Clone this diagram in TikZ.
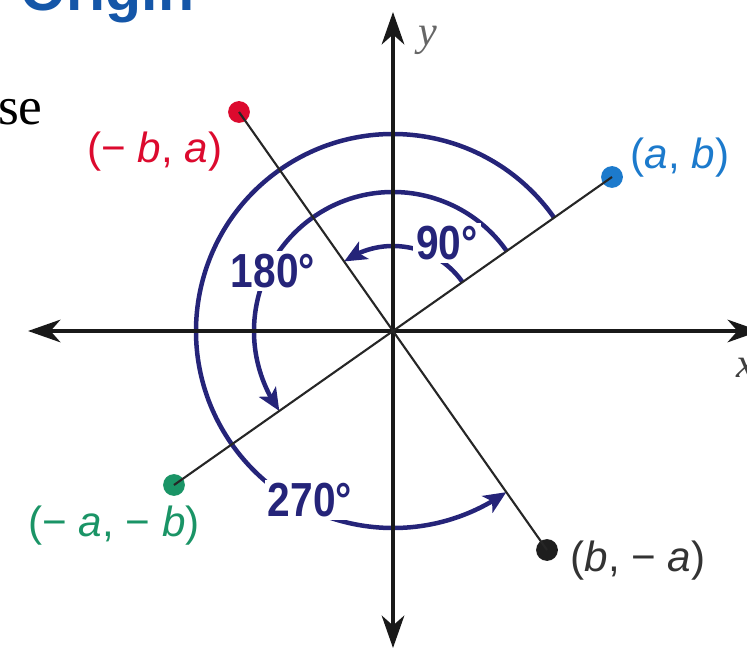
\documentclass[tikz,border=0pt]{standalone}
\usepackage{fontspec}
\setmainfont{Liberation Serif}
\newfontfamily\labelfont{Liberation Sans}
\newfontfamily\anglefont[FakeStretch=0.85]{Liberation Sans}
\usepackage{xcolor}
\usetikzlibrary{arrows.meta,bending}
\definecolor{arcnavy}{HTML}{252479}
\definecolor{ptred}{HTML}{DC0A2E}
\definecolor{ptblue}{HTML}{1C7ACC}
\definecolor{ptgreen}{HTML}{1A9466}
\definecolor{ptdark}{HTML}{1E1E1E}
\definecolor{headblue}{HTML}{1456A8}

\begin{document}
\begin{tikzpicture}[
  x=0.025cm, y=0.025cm,
  axis/.style={line width=3pt, black!90,
               {Stealth[length=23pt,width=16pt,inset=7pt]}-{Stealth[length=23pt,width=16pt,inset=7pt]}},
  ray/.style={line width=1.5pt, black!85},
  turn/.style={line width=3.2pt, arcnavy, -{Stealth[length=16pt,width=14pt,inset=4pt]}},
  dot/.style={circle, inner sep=0pt, minimum size=15.5pt},
  ptlab/.style={font=\labelfont\fontsize{30}{30}\selectfont, inner sep=0pt},
  anglab/.style={font=\anglefont\bfseries\fontsize{34}{34}\selectfont, text=arcnavy,
                 fill=white, inner sep=2pt},
  axlab/.style={font=\itshape\fontsize{30}{30}\selectfont, text=black!60, inner sep=0pt}
]
\path[use as bounding box] (-393,-318) rectangle (354,331);
\clip (-393,-318) rectangle (354,331);
\coordinate (O) at (0,0);
% ----- cut-off page text -----
\node[font=\labelfont\bfseries\fontsize{42}{42}\selectfont, text=headblue, anchor=base west, inner sep=0pt]
  (head) at (-373,320) {Origin};
\node[font=\fontsize{38}{38}\selectfont, anchor=base east, inner sep=0pt] (side) at (-350,206) {se};
% ----- turning arcs -----
\draw[turn] (35.11:85) arc[start angle=35.11, end angle=125.11, radius=85];
\draw[turn] (35.11:139) arc[start angle=35.11, end angle=215.11, radius=139];
\draw[turn] (35.11:197) arc[start angle=35.11, end angle=305.11, radius=197];
\node[anglab] (l90) at (54,88) {90°};
\node[anglab] (l180) at (-120,60) {180°};
\node[anglab] (l270) at (-83,-169) {270°};
% ----- axes -----
\draw[axis] (-365,0) -- (367,0);
\draw[axis] (0,-317) -- (0,319);
\node[axlab] (ylab) at (35,291) {y};
\node[axlab, text=black!75] (xlab) at (353,-37) {x};
% ----- image points -----
\node[dot, fill=ptblue] (pab) at (219,154) {};
\node[dot, fill=ptred] (pmba) at (-154,219) {};
\node[dot, fill=ptgreen] (pmamb) at (-219,-154) {};
\node[dot, fill=ptdark] (pbma) at (154,-219) {};
\draw[ray] (pab.center) -- (O) -- (pmamb.center);
\draw[ray] (pmba.center) -- (O) -- (pbma.center);
\node[ptlab, text=ptblue] (lab) at (287,173) {(\textit{a}, \textit{b})};
\node[ptlab, text=ptred] (lmba) at (-238,179) {(− \textit{b}, \textit{a})};
\node[ptlab, text=ptgreen] (lmamb) at (-279,-195) {(− \textit{a}, − \textit{b})};
\node[ptlab, text=black!80] (lbma) at (245,-230) {(\textit{b}, − \textit{a})};
\end{tikzpicture}
\end{document}
